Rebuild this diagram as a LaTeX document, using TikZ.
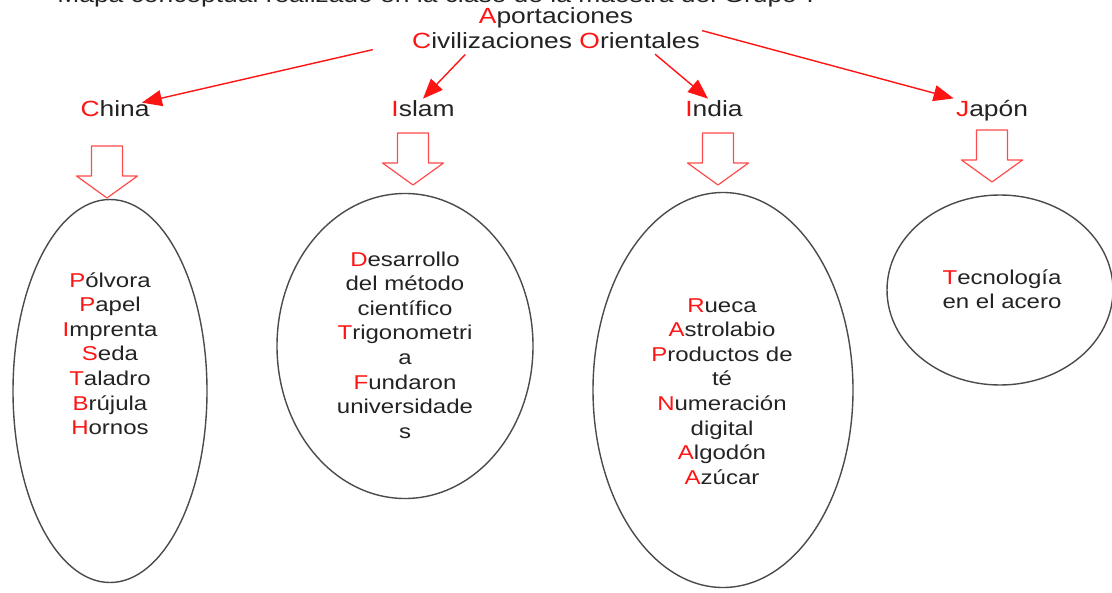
\documentclass[tikz,border=0pt]{standalone}
\usepackage{fontspec}
\setmainfont[FakeStretch=1.2]{Liberation Sans}
\usetikzlibrary{arrows.meta,shapes.geometric}
\definecolor{rot}{RGB}{255,20,20}
\definecolor{hellrot}{RGB}{255,75,75}
\definecolor{schrift}{RGB}{35,35,35}
\definecolor{rand}{RGB}{75,75,75}
\newcommand{\erst}[1]{\textcolor{rot}{#1}}
\tikzset{
  pfeil/.style={rot, line width=0.7pt, -{Triangle[length=10pt,width=8pt]}},
  kat/.style={font=\fontsize{11}{12.5}\selectfont, text=schrift, anchor=base, inner sep=1pt},
  inhalt/.style={font=\fontsize{10}{12.3}\selectfont, text=schrift, align=center, anchor=base, inner sep=0pt},
  oval/.style={ellipse, draw=rand, line width=0.7pt, inner sep=0pt},
  hohlpfeil/.pic={
    \draw[hellrot, line width=0.6pt, line join=round]
      (-15.5,0) -- (15.5,0) -- (15.5,30) -- (30.5,30) -- (0,52) -- (-30.5,30) -- (-15.5,30) -- cycle;
  }
}
\begin{document}
\begin{tikzpicture}[x=0.5pt,y=-0.5pt]
        \path[use as bounding box, fill=white] (0,0) rectangle (1112,593);
        % Ueberschrift
        \node[kat, anchor=base west] (kopf) at (55,3) {Mapa conceptual realizado en la clase de la maestra del Grupo 7};
        \node[kat] (aport) at (556,24) {\erst{A}portaciones};
        \node[kat] (civ) at (556,49) {\erst{C}ivilizaciones \erst{O}rientales};
        % Kategorien
        \node[kat] (china) at (115,117) {\erst{C}hina};
        \node[kat] (islam) at (423,117) {\erst{I}slam};
        \node[kat] (india) at (714,117) {\erst{I}ndia};
        \node[kat] (japon) at (992,117) {\erst{J}apón};
        % Pfeile
        \draw[pfeil, shorten <=19pt] (civ.west) -- ([xshift=-5pt,yshift=-2pt]china.north east);
        \draw[pfeil, shorten <=2pt] ([xshift=-44pt]civ.south) -- (islam.north);
        \draw[pfeil, shorten <=2pt] ([xshift=48pt]civ.south) -- ([xshift=-3pt]india.north);
        \draw[pfeil] (civ.north east) -- (japon.north west);
        % Hohlpfeile
        \pic at (107,146) {hohlpfeil};
        \pic at (413,133) {hohlpfeil};
        \pic at (718,133) {hohlpfeil};
        \pic at (992,130) {hohlpfeil};
        % Ellipsen
        \node[oval, minimum width=97pt, minimum height=191.5pt] (chinaOval) at (110,391) {};
        \node[oval, minimum width=128pt, minimum height=152.5pt] (islamOval) at (405,346) {};
        \node[oval, minimum width=130pt, minimum height=197.5pt] (indiaOval) at (723,390) {};
        \node[oval, minimum width=113pt, minimum height=95pt] (japonOval) at (1000,290) {};
        % Inhalte (Grundlinie der letzten Zeile)
        \node[inhalt] (chinaText) at (110,434.6) {\erst{P}ólvora\\ \erst{P}apel\\ \erst{I}mprenta\\ \erst{S}eda\\ \erst{T}aladro\\ \erst{B}rújula\\ \erst{H}ornos};
        \node[inhalt] (islamText) at (405,438.2) {\erst{D}esarrollo\\ del método\\ científico\\ \erst{T}rigonometri\\ a\\ \erst{F}undaron\\ universidade\\ s};
        \node[inhalt] (indiaText) at (722,484.2) {\erst{R}ueca\\ \erst{A}strolabio\\ \erst{P}roductos de\\ té\\ \erst{N}umeración\\ digital\\ \erst{A}lgodón\\ \erst{A}zúcar};
        \node[inhalt] (japonText) at (1002,308.6) {\erst{T}ecnología\\ en el acero};
\end{tikzpicture}
\end{document}
